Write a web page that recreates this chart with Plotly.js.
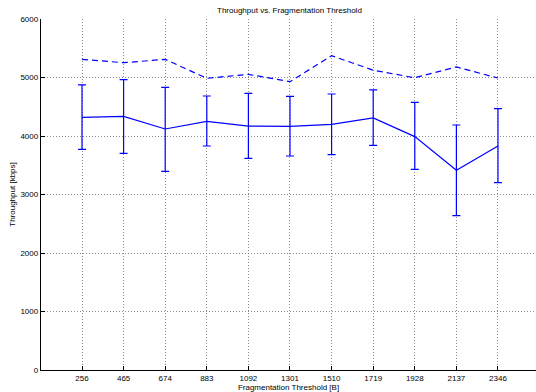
<!DOCTYPE html>
<html>
<head>
<meta charset="utf-8">
<script src="https://cdn.plot.ly/plotly-3.0.1.min.js"></script>
<style>html,body{margin:0;padding:0;background:#fff;}#chart{width:536px;height:392px;}</style>
</head>
<body>
<div id="chart"></div>
<script>
const thresholds = [256, 465, 674, 883, 1092, 1301, 1510, 1719, 1928, 2137, 2346];
const meanThroughput = [4320, 4336, 4120, 4250, 4168, 4165, 4200, 4308, 3990, 3415, 3830];
const upperBound = [4875, 4965, 4832, 4684, 4730, 4678, 4718, 4788, 4576, 4188, 4467];
const lowerBound = [3770, 3704, 3396, 3829, 3618, 3658, 3680, 3841, 3430, 2638, 3202];
const maxThroughput = [5311, 5253, 5310, 4986, 5054, 4928, 5373, 5125, 4995, 5180, 4991];
const yTicks = [0, 1000, 2000, 3000, 4000, 5000, 6000];

const errPlus = upperBound.map((u, i) => u - meanThroughput[i]);
const errMinus = lowerBound.map((l, i) => meanThroughput[i] - l);

const font = {family: 'Liberation Sans, Arial, sans-serif', size: 8, color: '#000'};

const traces = [
  {
    x: thresholds, y: maxThroughput, type: 'scatter', mode: 'lines',
    line: {color: '#0000ff', width: 1.2, dash: '6px,4px'},
    hoverinfo: 'skip'
  },
  {
    x: thresholds, y: meanThroughput, type: 'scatter', mode: 'lines',
    line: {color: '#0000ff', width: 1.2},
    error_y: {type: 'data', symmetric: false, array: errPlus, arrayminus: errMinus,
              color: '#0000ff', thickness: 1.2, width: 4},
    hoverinfo: 'skip'
  }
];

const layout = {
  width: 536, height: 392,
  margin: {l: 41, r: 0, t: 19, b: 22, pad: 0},
  paper_bgcolor: '#fff', plot_bgcolor: '#fff',
  showlegend: false,
  font: font,
  title: {text: 'Throughput vs. Fragmentation Threshold', font: font,
          x: 0.54, xanchor: 'center', y: 0.975, yanchor: 'middle'},
  xaxis: {
    range: [50, 2537], tickvals: thresholds, ticktext: thresholds.map(String),
    ticks: 'inside', ticklen: 4, tickcolor: '#000', tickwidth: 1,
    showline: true, linecolor: '#000', linewidth: 1.2,
    showgrid: true, gridcolor: '#8c8c8c', griddash: '1px,2px', gridwidth: 1,
    zeroline: false, tickfont: font,
    title: {text: 'Fragmentation Threshold [B]', font: font, standoff: 2}
  },
  yaxis: {
    range: [0, 6000], tickvals: yTicks, ticktext: yTicks.map(String),
    ticks: 'inside', ticklen: 4, tickcolor: '#000', tickwidth: 1,
    showline: true, linecolor: '#000', linewidth: 1.2,
    showgrid: true, gridcolor: '#8c8c8c', griddash: '1px,2px', gridwidth: 1,
    zeroline: false, tickfont: font,
    title: {text: 'Throughput [kbps]', font: font, standoff: 3}
  }
};

Plotly.newPlot('chart', traces, layout, {staticPlot: true, displayModeBar: false});
</script>
</body>
</html>
